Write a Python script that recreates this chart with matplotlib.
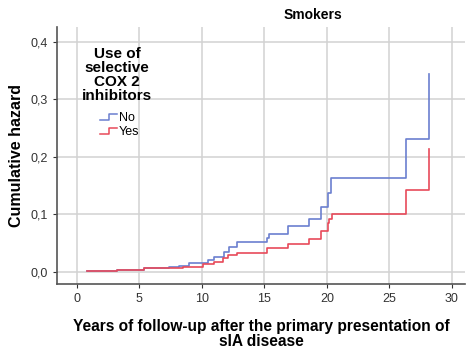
import matplotlib
matplotlib.use("Agg")
import matplotlib.pyplot as plt
from matplotlib.legend_handler import HandlerBase
from matplotlib.lines import Line2D

plt.rcParams['font.family'] = ['Liberation Sans', 'DejaVu Sans']

# cumulative hazard steps (years, hazard)
no_t = [0.8, 3.2, 5.4, 7.4, 8.2, 9.0, 10.5, 11.0, 11.8, 12.2, 12.8, 15.2, 15.4,
        16.9, 18.6, 19.5, 20.1, 20.3, 26.3, 28.2]
no_h = [0.002, 0.004, 0.006, 0.008, 0.011, 0.015, 0.021, 0.026, 0.035, 0.044, 0.052,
        0.059, 0.066, 0.079, 0.092, 0.113, 0.137, 0.163, 0.231, 0.344]
yes_t = [0.8, 3.2, 5.4, 7.6, 8.5, 10.1, 11.0, 11.7, 12.1, 12.8, 15.2, 16.9, 18.6,
         19.5, 20.1, 20.2, 20.4, 26.3, 28.2]
yes_h = [0.002, 0.004, 0.006, 0.007, 0.009, 0.014, 0.018, 0.024, 0.030, 0.033, 0.042,
         0.049, 0.057, 0.071, 0.085, 0.092, 0.101, 0.143, 0.214]

x_ticks = [0, 5, 10, 15, 20, 25, 30]
y_ticks = [0.0, 0.1, 0.2, 0.3, 0.4]
y_labels = ["0,0", "0,1", "0,2", "0,3", "0,4"]

blue = "#6b7fcf"
red = "#e84a5a"


class StepHandler(HandlerBase):
    def create_artists(self, legend, orig_handle, xdescent, ydescent, width, height, fontsize, trans):
        w = width * 0.75
        x0 = -xdescent + width - w
        x = [x0, x0 + w / 2, x0 + w / 2, x0 + w]
        y = [-ydescent + height * 0.1, -ydescent + height * 0.1, -ydescent + height * 0.8, -ydescent + height * 0.8]
        line = Line2D(x, y, color=orig_handle.get_color(), lw=1.1, transform=trans)
        return [line]


fig = plt.figure(figsize=(4.69, 3.51), dpi=100)
ax = fig.add_axes([0.1215, 0.191, 0.8695, 0.732])

l1, = ax.plot(no_t, no_h, drawstyle='steps-post', color=blue, lw=1.2)
l2, = ax.plot(yes_t, yes_h, drawstyle='steps-post', color=red, lw=1.2)

ax.set_xlim(-1.6, 31.04)
ax.set_ylim(-0.021, 0.426)
ax.set_xticks(x_ticks)
ax.set_yticks(y_ticks)
ax.set_yticklabels(y_labels)
ax.tick_params(labelsize=9, colors="#333333", length=3)
ax.grid(True, color="#d2d2d2", lw=1.1)
ax.set_axisbelow(True)
for s in ['top', 'right']:
    ax.spines[s].set_visible(False)
for s in ['left', 'bottom']:
    ax.spines[s].set_color("#555555")
    ax.spines[s].set_linewidth(1.2)

ax.set_ylabel("Cumulative hazard", fontsize=11.5, fontweight='bold', labelpad=5)
ax.set_xlabel("Years of follow-up after the primary presentation of\nsIA disease",
              fontsize=11.2, fontweight='bold', labelpad=10, linespacing=1.05)

fig.text(313 / 469, 1 - 15 / 351, "Smokers", ha='center', va='center',
         fontsize=10, fontweight='bold')

leg = ax.legend([l1, l2], ["No", "Yes"], handler_map={Line2D: StepHandler()},
                title="Use of\nselective\nCOX 2\ninhibitors", loc='upper center',
                bbox_to_anchor=(0.147, 0.95), frameon=False, fontsize=9,
                handlelength=1.8, handletextpad=0.1, labelspacing=0.15,
                borderpad=0.1)
leg._legend_box.align = "center"
leg._legend_box.sep = 6
leg.get_title().set_fontweight('bold')
leg.get_title().set_fontsize(11)
leg.get_title().set_linespacing(1.0)
leg.get_title().set_ha('center')

fig.savefig("out.png", dpi=100)
